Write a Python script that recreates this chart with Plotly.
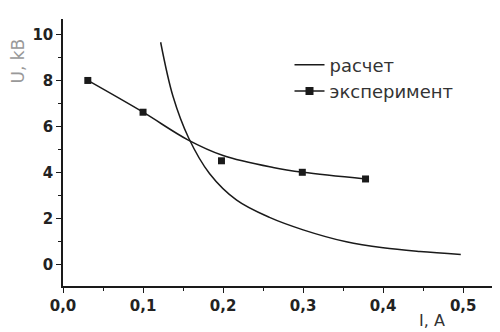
import plotly.graph_objects as go

# расчет (calculated curve)
calc_I = [0.122, 0.1375, 0.157, 0.183, 0.217, 0.258, 0.3, 0.354, 0.4, 0.446, 0.497]
calc_U = [9.66, 7.30, 5.50, 3.96, 2.80, 2.05, 1.51, 0.99, 0.73, 0.57, 0.44]

# эксперимент (measured points)
exp_I = [0.031, 0.1, 0.198, 0.299, 0.378]
exp_U = [8.0, 6.62, 4.51, 4.01, 3.72]

# smoothed line through experiment
fit_I = [0.031, 0.1, 0.156, 0.2, 0.2625, 0.3, 0.378]
fit_U = [8.0, 6.62, 5.42, 4.74, 4.22, 4.01, 3.72]

x_ticks = [0.0, 0.1, 0.2, 0.3, 0.4, 0.5]
y_ticks = [0, 2, 4, 6, 8, 10]

ink = "#1a1a1a"

fig = go.Figure()
fig.add_trace(go.Scatter(x=calc_I, y=calc_U, mode="lines", name="расчет",
                         line=dict(color=ink, width=1.5, shape="spline")))
fig.add_trace(go.Scatter(x=fit_I, y=fit_U, mode="lines", showlegend=False,
                         line=dict(color=ink, width=1.5, shape="spline")))
fig.add_trace(go.Scatter(x=exp_I, y=exp_U, mode="markers", showlegend=False,
                         marker=dict(symbol="square", size=7, color=ink)))
fig.add_trace(go.Scatter(x=[None], y=[None], mode="lines+markers", name="эксперимент",
                         line=dict(color=ink, width=1.5),
                         marker=dict(symbol="square", size=8, color=ink)))

tickfont = dict(family="DejaVu Sans", size=15, color="#222", weight="bold")
axis_common = dict(showline=True, linecolor=ink, linewidth=1.5, ticks="outside",
                   ticklen=5, tickwidth=1.2, tickcolor=ink, showgrid=False,
                   zeroline=False, tickfont=tickfont, mirror=False)

fig.update_layout(
    width=500, height=332,
    margin=dict(l=55, r=0, t=11, b=54),
    paper_bgcolor="white", plot_bgcolor="white",
    separators=", ",
    showlegend=True,
    legend=dict(x=0.509, y=0.897, xanchor="left", yanchor="top",
                bgcolor="rgba(0,0,0,0)",
                font=dict(family="DejaVu Sans", size=18, color="#333")),
    xaxis=dict(range=[0, 0.556], tickvals=x_ticks, tickformat=".1f",
               minor=dict(ticks="outside", dtick=0.05, ticklen=3, tickcolor=ink),
               **axis_common),
    yaxis=dict(range=[-0.93, 10.67], tickvals=y_ticks, tickformat="d",
               minor=dict(ticks="outside", dtick=1, ticklen=3, tickcolor=ink),
               **axis_common),
    annotations=[
        dict(text="U, kB", xref="paper", yref="paper", x=-0.101, y=0.841,
             xanchor="center", yanchor="middle", showarrow=False, textangle=-90,
             font=dict(family="DejaVu Sans", size=17, color="#999")),
        dict(text="I, A", xref="paper", yref="paper", x=0.829, y=-0.088,
             xanchor="center", yanchor="top", showarrow=False,
             font=dict(family="DejaVu Sans", size=16, color="#333")),
    ],
)

fig.write_html("out.html")
